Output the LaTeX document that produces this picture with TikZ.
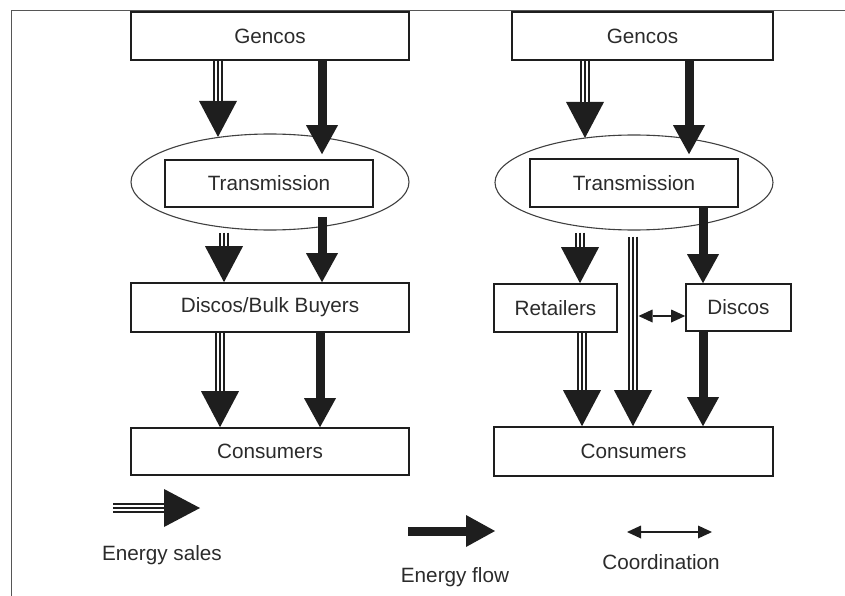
\documentclass[tikz,border=0pt]{standalone}
\usepackage{fontspec}
\setmainfont{Liberation Sans}
\usetikzlibrary{arrows.meta,shapes.geometric}
\definecolor{ink}{HTML}{1E1E1E}
\definecolor{txt}{HTML}{2B2B2B}
\tikzset{
  box/.style={draw=ink, line width=1.6pt, inner sep=0pt, text=txt,
    font=\fontsize{20.7}{24}\selectfont},
  oval/.style={ellipse, draw=ink!85, line width=1.1pt, inner sep=0pt},
  flow/.style={draw=ink, line width=9pt,
    -{Triangle[width=32pt,length=29pt,line width=0pt]}},
  salesbase/.style={draw=ink, line width=10.5pt,
    -{Triangle[width=38pt,length=36pt,line width=0pt]}},
  salesgap/.style={draw=white, line width=1.1pt, double=ink,
    double distance=2.9pt, shorten >=36pt},
  coord/.style={draw=ink, line width=1.6pt,
    {Triangle[width=13pt,length=14pt,line width=0pt]}-{Triangle[width=13pt,length=14pt,line width=0pt]}},
  legend/.style={text=txt, inner sep=0pt, font=\fontsize{20.7}{24}\selectfont},
  frame/.style={draw=ink!75, line width=1pt}
}
\newcommand{\salesarrow}[2]{\draw[salesbase] #1 -- #2; \draw[salesgap] #1 -- #2;}

\begin{document}
\begin{tikzpicture}[x=1pt,y=-1pt]
  \useasboundingbox (0,0) rectangle (845,596);
  \draw[frame] (11,596) -- (11,11) -- (845,11);

  % left market
  \node[box, minimum width=278pt, minimum height=48pt] (gencosL) at (270,36) {Gencos};
  \node[oval, minimum width=278pt, minimum height=96pt] (ellL) at (270,182) {};
  \node[box, minimum width=208pt, minimum height=47pt] (transL) at (269,183.5) {Transmission};
  \node[box, minimum width=278pt, minimum height=49pt] (discoL) at (270,307.5) {Discos/Bulk Buyers};
  \node[box, minimum width=278pt, minimum height=47pt] (consL) at (270,451.5) {Consumers};

  % right market
  \node[box, minimum width=261pt, minimum height=48pt] (gencosR) at (642.5,36) {Gencos};
  \node[oval, minimum width=278pt, minimum height=95pt] (ellR) at (634,182.5) {};
  \node[box, minimum width=208pt, minimum height=48pt] (transR) at (634,183) {Transmission};
  \node[box, minimum width=123pt, minimum height=48pt] (retail) at (555.5,308) {Retailers};
  \node[box, minimum width=105pt, minimum height=47pt] (discoR) at (738.5,307.5) {Discos};
  \node[box, minimum width=279pt, minimum height=49pt] (consR) at (633.5,451.5) {Consumers};

  % arrow columns
  \coordinate (xA1) at (218,0);
  \coordinate (xA2) at (322,0);
  \coordinate (xA3) at (224,0);
  \coordinate (xA5) at (220,0);
  \coordinate (xA6) at (320,0);
  \coordinate (xB1) at (585,0);
  \coordinate (xB2) at (689,0);
  \coordinate (xB3) at (580,0);
  \coordinate (xB4) at (633,0);
  \coordinate (xB5) at (703,0);
  \coordinate (xB6) at (582,0);

  % left arrows
  \salesarrow{(gencosL.south -| xA1)}{([yshift=-3.5pt]ellL.north -| xA1)}
  \draw[flow] (gencosL.south -| xA2) -- ([yshift=5pt]transL.north -| xA2);
  \salesarrow{([yshift=-2pt]ellL.south -| xA3)}{(discoL.north -| xA3)}
  \draw[flow] ([yshift=-9pt]transL.south -| xA2) -- (discoL.north -| xA2);
  \salesarrow{(discoL.south -| xA5)}{(consL.north -| xA5)}
  \draw[flow] (discoL.south -| xA6) -- (consL.north -| xA6);

  % right arrows
  \salesarrow{(gencosR.south -| xB1)}{([yshift=-3.5pt]ellR.north -| xB1)}
  \draw[flow] (gencosR.south -| xB2) -- ([yshift=4pt]transR.north -| xB2);
  \salesarrow{([yshift=-2pt]ellR.south -| xB3)}{(retail.north -| xB3)}
  \salesarrow{([yshift=-6pt]ellR.south -| xB4)}{(consR.north -| xB4)}
  \draw[flow] (transR.south -| xB5) -- (discoR.north -| xB5);
  \salesarrow{(retail.south -| xB6)}{(consR.north -| xB6)}
  \draw[flow] (discoR.south -| xB5) -- (consR.north -| xB5);
  \coordinate (coordS) at (638.5,316);
  \draw[coord] (coordS) -- (coordS -| discoR.west);

  % legend
  \coordinate (salesA) at (113,508);
  \coordinate (salesB) at (200,508);
  \salesarrow{(salesA)}{(salesB)}
  \node[legend] (salesT) at (162,555) {Energy sales};
  \coordinate (flowA) at (408,531);
  \coordinate (flowB) at (495,531);
  \draw[flow] (flowA) -- (flowB);
  \node[legend] (flowT) at (455,577) {Energy flow};
  \coordinate (coordA) at (627,532);
  \coordinate (coordB) at (712,532);
  \draw[coord] (coordA) -- (coordB);
  \node[legend] (coordT) at (661,562) {Coordination};
\end{tikzpicture}
\end{document}
